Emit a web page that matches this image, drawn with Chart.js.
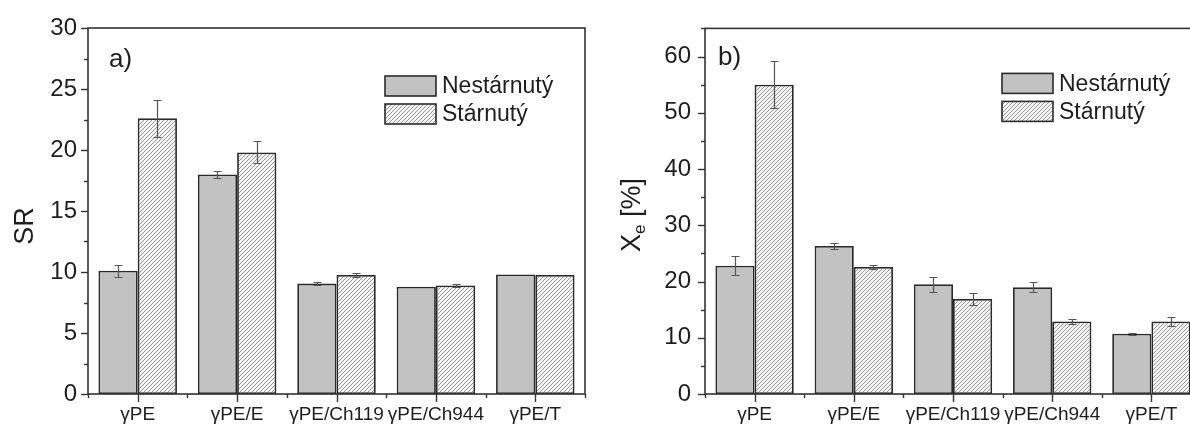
<!DOCTYPE html>
<html>
<head>
<meta charset="utf-8">
<script src="https://cdn.jsdelivr.net/npm/chart.js@4.4.0/dist/chart.umd.min.js"></script>
<style>
	html, body { margin: 0; padding: 0; background: #fff; overflow: hidden; }
	body { width: 1190px; height: 424px; position: relative; }
	.panel { position: absolute; top: 0; height: 424px; }
	#left_panel { left: 0; width: 595px; }
	#right_panel { left: 595px; width: 616px; }
</style>
</head>
<body>
<div class="panel" id="left_panel"><canvas id="chart_sr"></canvas></div>
<div class="panel" id="right_panel"><canvas id="chart_xe"></canvas></div>
<script>
//______ data

var categories = ['γPE', 'γPE/E', 'γPE/Ch119', 'γPE/Ch944', 'γPE/T'];
var seriesNames = ['Nestárnutý', 'Stárnutý'];

var srFresh = [10.1, 18.0, 9.05, 8.8, 9.8];
var srFreshErr = [0.5, 0.3, 0.1, 0, 0];
var srAged = [22.6, 19.8, 9.75, 8.9, 9.75];
var srAgedErr = [1.5, 0.9, 0.2, 0.1, 0];

var xeFresh = [22.8, 26.3, 19.5, 19.0, 10.7];
var xeFreshErr = [1.7, 0.6, 1.3, 0.9, 0.15];
var xeAged = [55.0, 22.6, 16.9, 12.9, 12.9];
var xeAgedErr = [4.2, 0.4, 1.1, 0.4, 0.75];

var srTicks = { max: 30, step: 5, minor: 2.5 };
var xeTicks = { max: 65, step: 10, minor: 5 };

//______ styles

var FONT = "'Liberation Sans', Arial, sans-serif";
var INK = '#1e1e1e';
var AXIS = '#333';
var GREY = '#c2c2c2';
var BORDER = '#2a2a2a';
var ERR = '#555';

function makeHatch(ctx) {
	var c = document.createElement('canvas');
	c.width = 4;
	c.height = 4;
	var g = c.getContext('2d');
	g.fillStyle = '#f4f4f4';
	g.fillRect(0, 0, 4, 4);
	g.strokeStyle = '#8e8e8e';
	g.lineWidth = 0.9;
	g.beginPath();
	g.moveTo(-1, 5); g.lineTo(5, -1);
	g.moveTo(-1, 1); g.lineTo(1, -1);
	g.moveTo(3, 5); g.lineTo(5, 3);
	g.stroke();
	return ctx.createPattern(c, 'repeat');
}

//______ plugin: frame, tick marks, error bars, letter, y title, legend

var panelPlugin = {
	id: 'panel',
	afterDatasetsDraw: function(chart) {
		var ctx = chart.ctx;
		var y = chart.scales.y;
		ctx.save();
		ctx.strokeStyle = ERR;
		ctx.lineWidth = 1.2;
		chart.data.datasets.forEach((ds, di) => {
			var meta = chart.getDatasetMeta(di);
			meta.data.forEach((bar, i) => {
				var e = ds.errors[i];
				if(!e) return;
				var top = Math.round(y.getPixelForValue(ds.data[i] + e)) + 0.5;
				var bot = Math.round(y.getPixelForValue(ds.data[i] - e)) + 0.5;
				var x = Math.round(bar.x) + 0.5;
				ctx.beginPath();
				ctx.moveTo(x, top); ctx.lineTo(x, bot);
				ctx.moveTo(x - 4, top); ctx.lineTo(x + 4, top);
				ctx.moveTo(x - 4, bot); ctx.lineTo(x + 4, bot);
				ctx.stroke();
			});
		});
		ctx.restore();
	},
	afterDraw: function(chart, args, opts) {
		var ctx = chart.ctx;
		var a = chart.chartArea;
		var x = chart.scales.x;
		var y = chart.scales.y;

		ctx.save();
		ctx.strokeStyle = AXIS;
		ctx.lineWidth = 1.6;
		ctx.strokeRect(a.left, a.top, a.right - a.left, a.bottom - a.top);

		// y ticks, major and minor, pointing out
		ctx.lineWidth = 1.4;
		for(var v = 0; v <= opts.max + 0.001; v += opts.minor) {
			var py = Math.round(y.getPixelForValue(v)) + 0.5;
			var major = Math.abs(v / opts.step - Math.round(v / opts.step)) < 0.001;
			ctx.beginPath();
			ctx.moveTo(a.left, py);
			ctx.lineTo(a.left - (major ? 7 : 4), py);
			ctx.stroke();
		}

		// x ticks: long at the categories, short between them
		for(var i = 0; i < categories.length; i++) {
			var px = Math.round(x.getPixelForValue(i)) + 0.5;
			ctx.beginPath();
			ctx.moveTo(px, a.bottom);
			ctx.lineTo(px, a.bottom + 8);
			ctx.stroke();
		}
		var w = (a.right - a.left) / categories.length;
		for(var j = 0; j <= categories.length; j++) {
			var bx = Math.round(a.left + j * w) + 0.5;
			ctx.beginPath();
			ctx.moveTo(bx, a.bottom);
			ctx.lineTo(bx, a.bottom + 4);
			ctx.stroke();
		}

		// panel letter
		ctx.fillStyle = INK;
		ctx.font = '26px ' + FONT;
		ctx.textBaseline = 'middle';
		ctx.textAlign = 'left';
		ctx.fillText(opts.letter, a.left + opts.letterX, opts.letterY);

		// y title, rotated, with optional subscript
		ctx.save();
		ctx.translate(opts.titleX, opts.titleY);
		ctx.rotate(-Math.PI / 2);
		ctx.textBaseline = 'alphabetic';
		var big = '27px ' + FONT;
		var small = '17px ' + FONT;
		ctx.font = big;
		var w1 = ctx.measureText(opts.title).width;
		ctx.font = small;
		var w2 = opts.sub ? ctx.measureText(opts.sub).width : 0;
		ctx.font = big;
		var w3 = opts.rest ? ctx.measureText(opts.rest).width : 0;
		var start = -(w1 + w2 + w3) / 2;
		var base = 9.7;
		ctx.fillText(opts.title, start, base);
		if(opts.sub) {
			ctx.font = small;
			ctx.fillText(opts.sub, start + w1, base + 5);
		}
		if(opts.rest) {
			ctx.font = big;
			ctx.fillText(opts.rest, start + w1 + w2, base);
		}
		ctx.restore();

		// legend
		ctx.font = '23px ' + FONT;
		ctx.textBaseline = 'middle';
		chart.data.datasets.forEach((ds, di) => {
			var lx = a.left + 297;
			var ly = a.top + opts.legendTop + di * 28;
			ctx.fillStyle = ds.backgroundColor;
			ctx.fillRect(lx, ly, 51, 20);
			ctx.strokeStyle = BORDER;
			ctx.lineWidth = 1.6;
			ctx.strokeRect(lx, ly, 51, 20);
			ctx.fillStyle = INK;
			ctx.fillText(ds.label, lx + 57, ly + 11);
		});
		ctx.restore();
	}
};

Chart.register(panelPlugin);

function buildChart(canvasId, fresh, freshErr, aged, agedErr, ticks, yWidth, rightPad, panel) {
	var canvas = document.getElementById(canvasId);
	var ctx = canvas.getContext('2d');

	var data = {
		labels: categories,
		datasets: [
			{
				label: seriesNames[0],
				data: fresh,
				errors: freshErr,
				backgroundColor: GREY,
				borderColor: BORDER,
				borderWidth: 1.8,
				borderSkipped: false
			},
			{
				label: seriesNames[1],
				data: aged,
				errors: agedErr,
				backgroundColor: makeHatch(ctx),
				borderColor: BORDER,
				borderWidth: 1.8,
				borderSkipped: false
			}
		]
	};

	panel.max = ticks.max;
	panel.step = ticks.step;
	panel.minor = ticks.minor;

	return new Chart(ctx, {
		type: 'bar',
		data: data,
		options: {
			responsive: true,
			maintainAspectRatio: false,
			animation: false,
			layout: { padding: { top: 28, left: 0, right: rightPad, bottom: 0 } },
			datasets: { bar: { categoryPercentage: 0.79, barPercentage: 1.0 } },
			plugins: {
				legend: { display: false },
				tooltip: { enabled: false },
				panel: panel
			},
			scales: {
				x: {
					grid: { display: false, drawTicks: false },
					border: { display: false },
					ticks: { color: INK, font: { family: FONT, size: 19 }, padding: 9, maxRotation: 0, autoSkip: false },
					afterFit: function(s) { s.height = 30; }
				},
				y: {
					min: 0,
					max: ticks.max,
					grid: { display: false, drawTicks: false },
					border: { display: false },
					ticks: { stepSize: ticks.step, includeBounds: false, color: INK, font: { family: FONT, size: 24 }, padding: panel.tickPad },
					afterFit: function(s) { s.width = yWidth; }
				}
			}
		}
	});
}

buildChart('chart_sr', srFresh, srFreshErr, srAged, srAgedErr, srTicks, 88, 10,
	{ letter: 'a)', letterX: 21, letterY: 60, title: 'SR', sub: '', rest: '', titleX: 23, titleY: 226, legendTop: 48, tickPad: 11 });

buildChart('chart_xe', xeFresh, xeFreshErr, xeAged, xeAgedErr, xeTicks, 110, 10,
	{ letter: 'b)', letterX: 13, letterY: 58, title: 'X', sub: 'e', rest: ' [%]', titleX: 35, titleY: 215, legendTop: 45, tickPad: 14 });
</script>
</body>
</html>
